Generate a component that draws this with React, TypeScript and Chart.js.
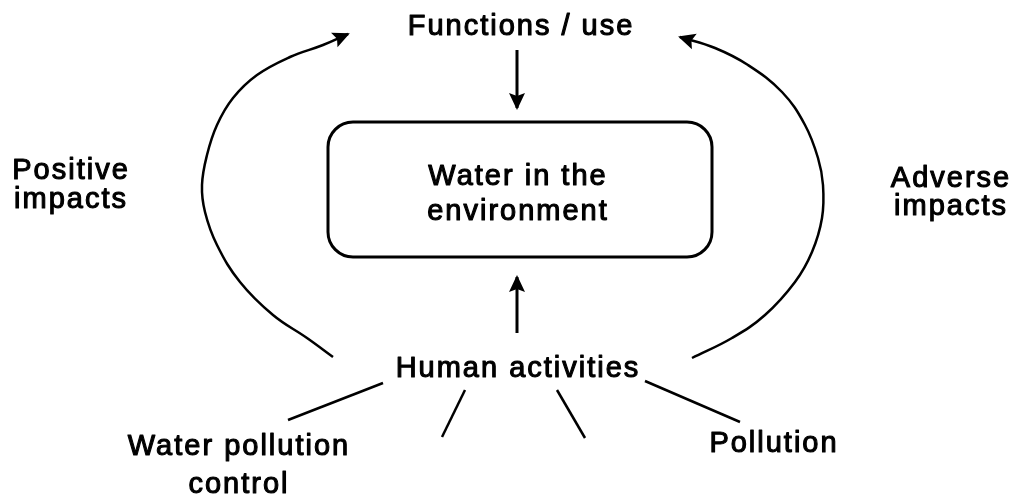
import React, { useEffect, useRef } from "react";
import { Chart, registerables } from "chart.js";

Chart.register(...registerables);

const FONT_FAMILY = '"Liberation Sans", Arial, Helvetica, sans-serif';

// Text nodes of the diagram
const labelLines: string[][] = [
  ["Functions / use"],
  ["Water in the", "environment"],
  ["Human activities"],
  ["Positive", "impacts"],
  ["Adverse", "impacts"],
  ["Water pollution", "control"],
  ["Pollution"],
];
const labelX = [520, 517, 517, 70, 950, 238, 773];
const labelBaseY = [35, 185, 377, 179, 187, 455, 452];
const labelLineGap = [0, 35, 0, 29, 28, 38, 0];

// Central box (corners)
const boxX = [328, 712];
const boxY = [122, 257];
const boxRadius = 25;

// Curved arrows (bottom end first, arrow at the last point)
const positiveArcX = [333, 307, 273, 240, 217, 205, 202, 207, 217, 233, 257, 290, 323, 348];
const positiveArcY = [357, 338, 315, 282, 245, 212, 185, 155, 125, 98, 75, 57, 45, 34];
const adverseArcX = [692, 732, 765, 795, 812, 822, 823, 818, 805, 782, 748, 715, 680];
const adverseArcY = [358, 338, 315, 282, 252, 218, 185, 158, 125, 92, 65, 48, 37];

// Straight arrows
const downArrowX = [517, 517];
const downArrowY = [50, 108];
const upArrowX = [517, 517];
const upArrowY = [333, 277];

// Spokes below "Human activities"
const spokeStartX = [383, 465, 557, 645];
const spokeStartY = [383, 390, 390, 381];
const spokeEndX = [288, 442, 585, 740];
const spokeEndY = [420, 437, 438, 422];

const pts = (xs: number[], ys: number[]) => xs.map((x, i) => ({ x, y: ys[i] }));

export default function App() {
  const ref = useRef<HTMLCanvasElement | null>(null);

  useEffect(() => {
    if (!ref.current) return;

    const lineDs = (data: { x: number; y: number }[], opts: any = {}) => ({
      type: "line" as const,
      data,
      borderColor: "#000",
      backgroundColor: "#000",
      borderWidth: 2.5,
      pointRadius: 0,
      pointHoverRadius: 0,
      fill: false,
      tension: 0,
      ...opts,
    });

    const datasets: any[] = [
      lineDs(pts(positiveArcX, positiveArcY), { tension: 0.4, arrowEnd: true }),
      lineDs(pts(adverseArcX, adverseArcY), { tension: 0.4, arrowEnd: true }),
      lineDs(pts(downArrowX, downArrowY), { borderWidth: 3, arrowEnd: true }),
      lineDs(pts(upArrowX, upArrowY), { borderWidth: 3, arrowEnd: true }),
      ...spokeStartX.map((sx, i) =>
        lineDs([
          { x: sx, y: spokeStartY[i] },
          { x: spokeEndX[i], y: spokeEndY[i] },
        ])
      ),
    ];

    const diagramPlugin = {
      id: "diagram",
      afterDatasetsDraw(chart: any) {
        const ctx = chart.ctx as CanvasRenderingContext2D;
        const xs = chart.scales.x;
        const ys = chart.scales.y;
        ctx.save();
        // arrow heads
        chart.data.datasets.forEach((ds: any, i: number) => {
          if (!ds.arrowEnd) return;
          const meta = chart.getDatasetMeta(i);
          const els = meta.data;
          const n = els.length;
          const last = els[n - 1];
          const prev = els[n - 2];
          let dx = last.x - prev.x;
          let dy = last.y - prev.y;
          const len = Math.hypot(dx, dy) || 1;
          dx /= len;
          dy /= len;
          const tipX = last.x + dx * 2;
          const tipY = last.y + dy * 2;
          const L = 17;
          const W = 8;
          const bx = tipX - dx * L;
          const by = tipY - dy * L;
          ctx.beginPath();
          ctx.moveTo(tipX, tipY);
          ctx.lineTo(bx - dy * W, by + dx * W);
          ctx.lineTo(bx + dx * 3, by + dy * 3);
          ctx.lineTo(bx + dy * W, by - dx * W);
          ctx.closePath();
          ctx.fillStyle = "#000";
          ctx.fill();
        });

        // rounded box
        const x0 = xs.getPixelForValue(boxX[0]);
        const x1 = xs.getPixelForValue(boxX[1]);
        const y0 = ys.getPixelForValue(boxY[0]);
        const y1 = ys.getPixelForValue(boxY[1]);
        ctx.beginPath();
        ctx.roundRect(x0, y0, x1 - x0, y1 - y0, boxRadius);
        ctx.lineWidth = 3;
        ctx.strokeStyle = "#000";
        ctx.stroke();

        // labels
        ctx.font = `29px ${FONT_FAMILY}`;
        (ctx as any).letterSpacing = "2px";
        ctx.textAlign = "center";
        ctx.textBaseline = "alphabetic";
        ctx.fillStyle = "#000";
        ctx.strokeStyle = "#000";
        ctx.lineWidth = 1.1;
        ctx.lineJoin = "round";
        labelLines.forEach((lines, i) => {
          lines.forEach((t, j) => {
            const px = xs.getPixelForValue(labelX[i]) + 1;
            const py = ys.getPixelForValue(labelBaseY[i] + j * labelLineGap[i]);
            ctx.fillText(t, px, py);
            ctx.strokeText(t, px, py);
          });
        });
        ctx.restore();
      },
    };

    const chart = new Chart(ref.current, {
      type: "line",
      data: { datasets },
      options: {
        animation: false,
        responsive: true,
        maintainAspectRatio: false,
        layout: { padding: 0 },
        plugins: { legend: { display: false }, tooltip: { enabled: false } },
        events: [],
        scales: {
          x: { type: "linear", min: 0, max: 1021, display: false },
          y: { type: "linear", min: 0, max: 500, reverse: true, display: false },
        },
      },
      plugins: [diagramPlugin],
    });
    return () => chart.destroy();
  }, []);

  return (
    <div style={{ position: "absolute", left: 0, top: 0, width: 1021, height: 500, background: "#fff" }}>
      <canvas ref={ref} />
    </div>
  );
}
